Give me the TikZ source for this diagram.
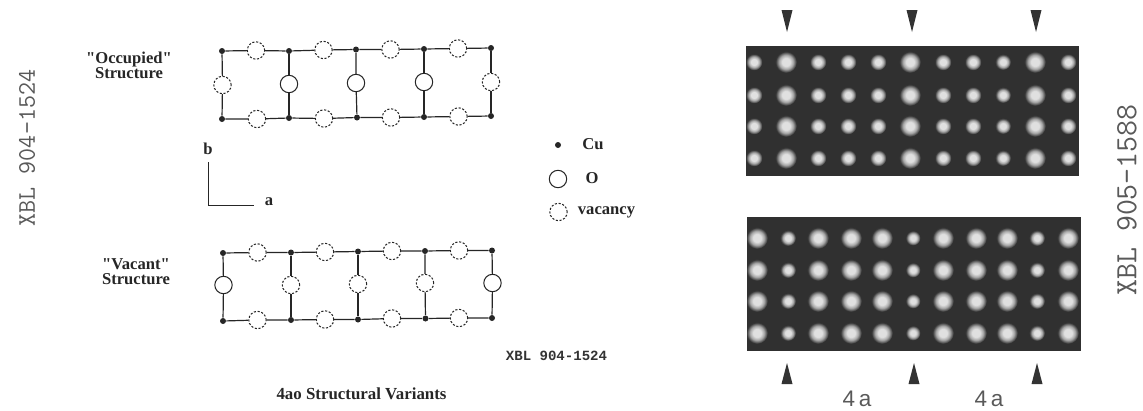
\documentclass[tikz,border=0pt]{standalone}
\usepackage{fontspec}
\setsansfont{Liberation Sans}
\newfontfamily\labfont{Liberation Serif}
\newfontfamily\tagfont{Liberation Mono}
\usepackage{tikz}
\usetikzlibrary{calc,positioning}
\definecolor{stamp}{gray}{0.35}
\definecolor{plate}{gray}{0.19}
\definecolor{blob}{gray}{0.88}
\definecolor{blobedge}{gray}{0.66}
\pgfdeclareradialshading{spotblob}{\pgfpoint{0bp}{0bp}}{color(0bp)=(blob); color(9bp)=(blob); color(16bp)=(blobedge); color(24bp)=(plate); color(50bp)=(plate)}
\begin{document}
\begin{tikzpicture}[x=0.025cm,y=-0.025cm,
    cu/.style={fill=black!85,circle,inner sep=0pt,minimum size=0.15cm},
    oxy/.style={draw=black!85,circle,line width=0.75pt,inner sep=0pt,minimum size=0.435cm},
    vac/.style={draw=black!85,circle,line width=0.75pt,dash pattern=on 1.5pt off 1.2pt,inner sep=0pt,minimum size=0.435cm},
    bond/.style={draw=black!85,line width=0.85pt},
    lab/.style={font=\labfont\bfseries\fontsize{11.8}{10.7}\selectfont,align=center,text=black!85},
    tiny/.style={font=\tagfont\bfseries\fontsize{10}{10}\selectfont,text=black!80},
    stampa/.style={font=\ttfamily\fontsize{18}{18}\selectfont,text=stamp,rotate=90},
    stampb/.style={font=\ttfamily\fontsize{22}{22}\selectfont,text=stamp,rotate=90},
    spacing/.style={font=\sffamily\fontsize{16}{16}\selectfont,text=stamp},
    spot/.style={shading=spotblob}]
  \useasboundingbox (0,0) rectangle (1143,410);

  % occupied lattice
  \node[cu] (a1) at (222,51) {};
  \node[cu] (a2) at (289,51) {};
  \node[cu] (a3) at (356,49.5) {};
  \node[cu] (a4) at (424,49) {};
  \node[cu] (a5) at (491,48) {};
  \node[cu] (b1) at (222,119) {};
  \node[cu] (b2) at (289,118) {};
  \node[cu] (b3) at (357,117.5) {};
  \node[cu] (b4) at (424,117) {};
  \node[cu] (b5) at (491,116) {};
  \node[vac] (av1) at (256,50.5) {};
  \node[vac] (av2) at (323.5,50) {};
  \node[vac] (av3) at (390.5,49.5) {};
  \node[vac] (av4) at (458,48.5) {};
  \node[vac] (bv1) at (257,119) {};
  \node[vac] (bv2) at (324,118.5) {};
  \node[vac] (bv3) at (391,117.5) {};
  \node[vac] (bv4) at (458.5,116.5) {};
  \node[vac] (m1) at (222.5,85) {};
  \node[oxy] (m2) at (289,84) {};
  \node[oxy] (m3) at (356,83) {};
  \node[oxy] (m4) at (424,82) {};
  \node[vac] (m5) at (491,82) {};
  \foreach \i/\j in {1/2,2/3,3/4,4/5} {
    \draw[bond] (a\i) -- (av\i) -- (a\j);
    \draw[bond] (b\i) -- (bv\i) -- (b\j);
  }
  \foreach \i in {1,...,5}
    \draw[bond] (a\i) -- (m\i) -- (b\i);

  % vacant lattice
  \node[cu] (c1) at (223,253) {};
  \node[cu] (c2) at (291,252.5) {};
  \node[cu] (c3) at (358,251.5) {};
  \node[cu] (c4) at (425,251) {};
  \node[cu] (c5) at (492,250.5) {};
  \node[cu] (d1) at (223,321) {};
  \node[cu] (d2) at (291,320) {};
  \node[cu] (d3) at (358,319.5) {};
  \node[cu] (d4) at (425.5,318.5) {};
  \node[cu] (d5) at (492,318) {};
  \node[vac] (cv1) at (257.5,252.5) {};
  \node[vac] (cv2) at (325,252) {};
  \node[vac] (cv3) at (392,251) {};
  \node[vac] (cv4) at (459,250.5) {};
  \node[vac] (dv1) at (257.5,320) {};
  \node[vac] (dv2) at (325,319.5) {};
  \node[vac] (dv3) at (392,318.5) {};
  \node[vac] (dv4) at (459,318) {};
  \node[oxy] (n1) at (223.5,285) {};
  \node[vac] (n2) at (291,285) {};
  \node[vac] (n3) at (358,284) {};
  \node[vac] (n4) at (425,283) {};
  \node[oxy] (n5) at (492.5,283) {};
  \foreach \i/\j in {1/2,2/3,3/4,4/5} {
    \draw[bond] (c\i) -- (cv\i) -- (c\j);
    \draw[bond] (d\i) -- (dv\i) -- (d\j);
  }
  \foreach \i in {1,...,5}
    \draw[bond] (c\i) -- (n\i) -- (d\i);

  % axes
  \coordinate (ax0) at (208,205);
  \coordinate (axb) at (208,162);
  \coordinate (axa) at (254,205);
  \draw[bond,line width=0.7pt] (axb) -- (ax0) -- (axa);
  \node[lab] (blab) at (208,149) {b};
  \node[lab] (alab) at (269,202) {a};

  % legend
  \node[cu] (lcu) at (558,145) {};
  \node[oxy] (lo) at (558,179) {};
  \node[vac] (lv) at (558.5,212) {};
  \node[lab] (lcut) at (593,144) {Cu};
  \node[lab] (lot) at (592,178) {O};
  \node[lab] (lvt) at (606.5,212) {vacancy};

  \node[lab] (occ) at (129,65) {"Occupied"\\Structure};
  \node[lab] (vct) at (136,272) {"Vacant"\\Structure};
  \node[lab,font=\labfont\bfseries\fontsize{12}{12}\selectfont] (ttl) at (361.5,394) {4ao Structural Variants};
  \node[tiny] (tag) at (556.5,356) {XBL 904-1524};
  \node[stampa] (sl) at (27,148) {XBL 904-1524};
  \node[stampb] (sr) at (1127,200) {XBL 905-1588};

  % micrographs
  \fill[plate] (746,46) rectangle (1079,176);
  \fill[plate] (747,217) rectangle (1081,351);
  \begin{scope}
    \clip (746,46) rectangle (1079,176);
    \foreach \y in {62,95,126,158}
      \foreach \x/\r in {754/8.5,786/11,818/8.5,848/8.5,878/8.5,910/11,943/8.5,973/8.5,1003/8,1035/11,1068/8.5}
        \shade[spot] (\x,\y) circle[radius=\r];
  \end{scope}
  \begin{scope}
    \clip (747,217) rectangle (1081,351);
    \foreach \y in {238,270,301,333}
      \foreach \x/\r in {757/11,788/8,818/11,851/11,882/11,913/7.5,943/11,976/11,1007/11,1037/8,1068/11}
        \shade[spot] (\x,\y) circle[radius=\r];
  \end{scope}

  % arrowheads
  \foreach \x in {787,912,1036}
    \fill[black!80] (\x-5.5,10) -- (\x+5.5,10) -- (\x,32) -- cycle;
  \foreach \x in {787,914,1037}
    \fill[black!80] (\x-5.5,384) -- (\x+5.5,384) -- (\x,363) -- cycle;
  \node[spacing] (sp1) at (857,399) {4\,a};
  \node[spacing] (sp2) at (989,399) {4\,a};
\end{tikzpicture}
\end{document}
